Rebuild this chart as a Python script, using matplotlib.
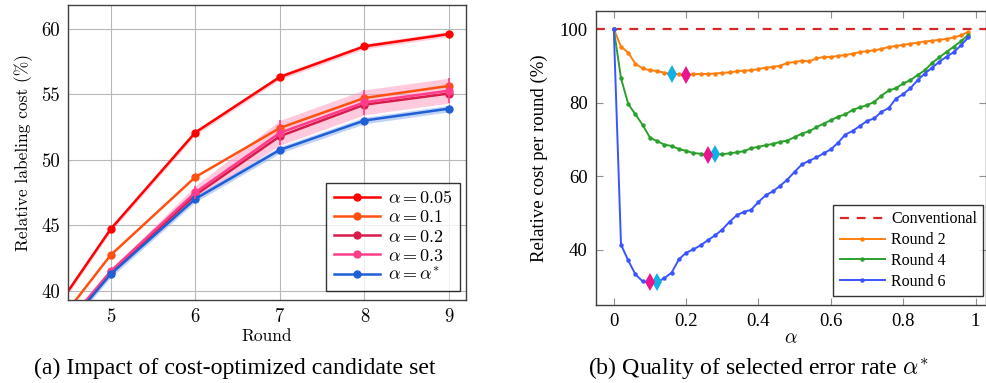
import matplotlib
matplotlib.use("Agg")
import matplotlib.pyplot as plt
import numpy as np

plt.rcParams["mathtext.fontset"] = "cm"
plt.rcParams["font.family"] = ["Liberation Serif", "DejaVu Serif"]

# ---- (a) relative labeling cost per round ----
rounds = [4, 5, 6, 7, 8, 9]
cost_005 = [35.3, 44.7, 52.07, 56.31, 58.65, 59.59]
cost_01 = [34.4, 42.72, 48.67, 52.42, 54.71, 55.63]
cost_02 = [33.7, 41.4, 47.3, 51.79, 54.2, 55.05]
cost_03 = [33.8, 41.5, 47.5, 52.05, 54.38, 55.27]
cost_opt = [33.6, 41.27, 47.01, 50.75, 52.99, 53.9]
std_005 = [0.2, 0.2, 0.2, 0.2, 0.2, 0.2]
std_03 = [0.1, 0.1, 0.5, 0.95, 0.95, 0.95]
std_opt = [0.25, 0.25, 0.25, 0.25, 0.25, 0.25]

# ---- (b) relative cost per round vs alpha ----
alphas = [round(0.02 * i, 2) for i in range(50)]
round2 = [100, 95.2, 93.6, 90.5, 89.3, 88.8, 88.6, 88.1, 87.8, 87.7,
          87.5, 87.7, 87.8, 87.8, 87.9, 88.1, 88.2, 88.5, 88.7, 88.8,
          89.1, 89.5, 89.7, 90.0, 90.8, 91.0, 91.4, 91.2, 92.0, 92.4,
          92.4, 92.7, 92.9, 93.3, 93.7, 94.0, 94.2, 94.6, 95.1, 95.4,
          95.7, 96.0, 96.3, 96.6, 96.8, 97.1, 97.3, 97.7, 98.3, 99.2]
round4 = [100, 86.6, 79.6, 76.8, 73.9, 70.5, 69.5, 68.6, 68.2, 67.4,
          66.9, 66.3, 66.1, 65.7, 65.9, 66.0, 66.2, 66.5, 66.8, 67.6,
          68.0, 68.4, 68.8, 69.3, 69.7, 70.6, 71.6, 72.2, 73.3, 74.3,
          75.2, 76.2, 76.8, 78.0, 78.7, 79.3, 80.2, 81.9, 83.3, 83.9,
          85.2, 86.1, 87.5, 88.8, 90.8, 92.3, 93.8, 95.2, 96.7, 98.4]
round6 = [100, 41.4, 37.1, 33.3, 31.4, 31.2, 31.2, 32.3, 33.8, 37.4,
          39.2, 40.1, 41.2, 42.6, 43.9, 45.5, 47.6, 49.4, 50.3, 50.9,
          53.0, 54.8, 55.9, 57.4, 59.1, 61.2, 63.2, 64.2, 65.1, 66.2,
          67.3, 69.1, 71.3, 72.3, 73.6, 75.0, 75.7, 77.5, 78.5, 81.1,
          82.3, 83.9, 86.1, 87.9, 89.5, 91.1, 92.5, 93.7, 95.6, 97.7]
# selected alpha (magenta) and optimal alpha (cyan) for each round
sel_alpha = [0.20, 0.26, 0.10]
opt_alpha = [0.16, 0.28, 0.12]

fig = plt.figure(figsize=(9.87, 3.83), dpi=100)
ax1 = fig.add_axes([0.0692, 0.2167, 0.4029, 0.7702])
ax2 = fig.add_axes([0.6039, 0.2037, 0.3951, 0.7676])

cm_font = dict(family="cmr10", size=12.5)

# left panel
ax1.grid(True, color="#b8b8b8", lw=0.8)
ax1.set_axisbelow(True)
ax1.fill_between(rounds, np.array(cost_005) - std_005, np.array(cost_005) + std_005,
                 color="#ff9fb4", alpha=0.5, lw=0)
ax1.fill_between(rounds, np.array(cost_03) - std_03, np.array(cost_03) + std_03,
                 color="#ff9ec4", alpha=0.55, lw=0)
ax1.fill_between(rounds, np.array(cost_opt) - std_opt, np.array(cost_opt) + std_opt,
                 color="#8fb0ee", alpha=0.55, lw=0)

series = [
    (cost_005, "#ff0000", r"$\alpha = 0.05$"),
    (cost_01, "#ff5010", r"$\alpha = 0.1$"),
    (cost_02, "#d81b4a", r"$\alpha = 0.2$"),
    (cost_03, "#ff3d8b", r"$\alpha = 0.3$"),
    (cost_opt, "#1f5fd6", r"$\alpha = \alpha^{*}$"),
]
for vals, col, lab in series:
    ax1.plot(rounds, vals, color=col, lw=1.8, marker="o", ms=5, label=lab)
ax1.errorbar(rounds[2:], cost_03[2:], yerr=std_03[2:], fmt="none",
             ecolor="#ff3d8b", elinewidth=1.2, capsize=0)

ax1.set_xlim(4.5, 9.2)
ax1.set_ylim(39.3, 61.8)
ax1.set_xticks([5, 6, 7, 8, 9])
ax1.set_yticks([40, 45, 50, 55, 60])
ax1.tick_params(direction="in", length=0, pad=6)
for lb in ax1.get_xticklabels() + ax1.get_yticklabels():
    lb.set_fontfamily("cmr10")
    lb.set_fontsize(13.5)
ax1.set_xlabel("Round", fontdict=cm_font, labelpad=2)
ax1.set_ylabel("Relative labeling cost (%)", fontdict=cm_font, labelpad=6)
for sp in ax1.spines.values():
    sp.set_color("#404040")
    sp.set_linewidth(1.0)
leg1 = ax1.legend(loc="lower right", bbox_to_anchor=(0.985, 0.03), fontsize=13,
                  frameon=True, fancybox=False, edgecolor="black",
                  handlelength=2.6, borderpad=0.4, labelspacing=0.12,
                  handletextpad=0.4, borderaxespad=0)
leg1.get_frame().set_linewidth(1.0)

# right panel
ax2.axhline(100, color="#d62728", lw=1.6, ls=(0, (4, 3.5)), label="Conventional")
ax2.plot(alphas, round2, color="#ff7f0e", lw=1.4, marker="o", ms=2.2, label="Round 2")
ax2.plot(alphas, round4, color="#2ca02c", lw=1.4, marker="o", ms=2.2, label="Round 4")
ax2.plot(alphas, round6, color="#3a55ff", lw=1.4, marker="o", ms=2.2, label="Round 6")
for curve, sa, oa in zip([round2, round4, round6], sel_alpha, opt_alpha):
    ax2.plot(oa, curve[alphas.index(oa)], marker="d", ms=9, color="#12b0e8", mew=0)
    ax2.plot(sa, curve[alphas.index(sa)], marker="d", ms=9, color="#ea148c", mew=0)

ax2.set_xlim(-0.049, 1.029)
ax2.set_ylim(25, 104.9)
ax2.set_xticks([0, 0.2, 0.4, 0.6, 0.8, 1])
ax2.set_xticklabels(["0", "0.2", "0.4", "0.6", "0.8", "1"])
ax2.set_yticks([40, 60, 80, 100])
ax2.tick_params(direction="in", length=5, color="#909090", labelsize=13.5,
                top=True, right=True, pad=6)
ax2.set_xlabel(r"$\alpha$", fontsize=14, labelpad=0)
ax2.set_ylabel("Relative cost per round (%)", fontsize=13.5, labelpad=8)
for sp in ax2.spines.values():
    sp.set_color("#404040")
    sp.set_linewidth(1.0)
leg2 = ax2.legend(loc="lower right", bbox_to_anchor=(0.993, 0.03), fontsize=11.5,
                  frameon=True, fancybox=False, edgecolor="black",
                  handlelength=2.8, borderpad=0.4, labelspacing=0.3,
                  handletextpad=0.4, borderaxespad=0)
leg2.get_frame().set_linewidth(1.0)

fig.text(0.238, 0.038, "(a) Impact of cost-optimized candidate set",
         ha="center", va="center", fontsize=17.2)
fig.text(0.768, 0.038, r"(b) Quality of selected error rate $\alpha^{*}$",
         ha="center", va="center", fontsize=17.2)

fig.savefig("out.png", dpi=100)
